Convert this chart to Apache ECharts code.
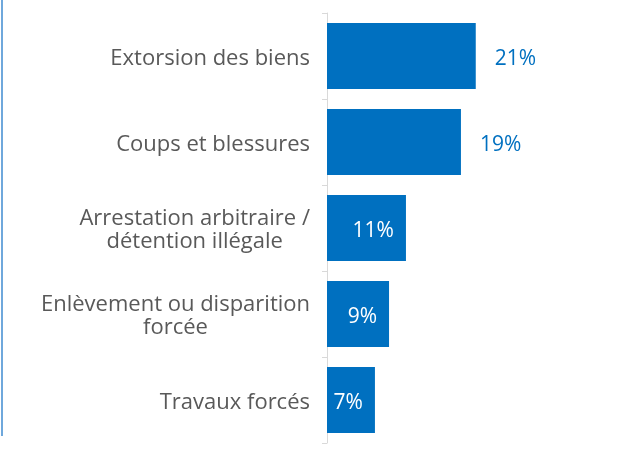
<!DOCTYPE html>
<html>
<head>
<meta charset="utf-8">
<script src="https://cdn.jsdelivr.net/npm/echarts@6/dist/echarts.min.js"></script>
<style>
  html, body { margin: 0; padding: 0; background: #fff; }
  #chart { width: 621px; height: 461px; }
</style>
</head>
<body>
<div id="chart"></div>
<script>
const categories = [
  'Extorsion des biens',
  'Coups et blessures',
  'Arrestation arbitraire /\ndétention illégale',
  'Enlèvement ou disparition\nforcée',
  'Travaux forcés'
];
const values = [21.1, 19.0, 11.2, 8.8, 6.8];
// first two labels sit outside the bar, the rest inside
const labelOutside = [true, true, false, false, false];

const chart = echarts.init(document.getElementById('chart'));
const font = '"Open Sans", sans-serif';

const data = values.map((v, i) => ({
  value: v,
  label: labelOutside[i]
    ? { position: 'right', distance: 19, color: '#0070C0' }
    : { position: 'insideRight', distance: 12, color: '#fff' }
}));

chart.setOption({
  animation: false,
  grid: { left: 327, right: 12, top: 13, bottom: 18 },
  xAxis: {
    type: 'value',
    min: 0,
    max: 40,
    show: false
  },
  yAxis: {
    type: 'category',
    data: categories,
    inverse: true,
    axisLine: { lineStyle: { color: '#d9d9d9', width: 1 } },
    axisTick: { show: true, length: 5, lineStyle: { color: '#d9d9d9' } },
    axisLabel: {
      color: '#595959',
      fontSize: 22,
      fontFamily: font,
      margin: 17,
      align: 'right',
      padding: [5, 0, 0, 0],
      // centre each line of a two-line label within its block
      formatter: v => v.split('\n').map(s => '{c|' + s + '}').join('\n'),
      rich: {
        c: {
          align: 'center',
          color: '#595959',
          fontSize: 22,
          fontFamily: font,
          lineHeight: 23
        }
      }
    }
  },
  graphic: [{
    type: 'rect',
    shape: { x: 1, y: 0, width: 2, height: 436 },
    style: { fill: '#6fa8dc' }
  }],
  series: [{
    type: 'bar',
    data: data,
    barWidth: 66,
    itemStyle: { color: '#0070C0' },
    label: {
      show: true,
      fontSize: 21,
      fontFamily: font,
      offset: [0, 3],
      formatter: p => Math.round(p.value) + '%'
    }
  }]
});
</script>
</body>
</html>
